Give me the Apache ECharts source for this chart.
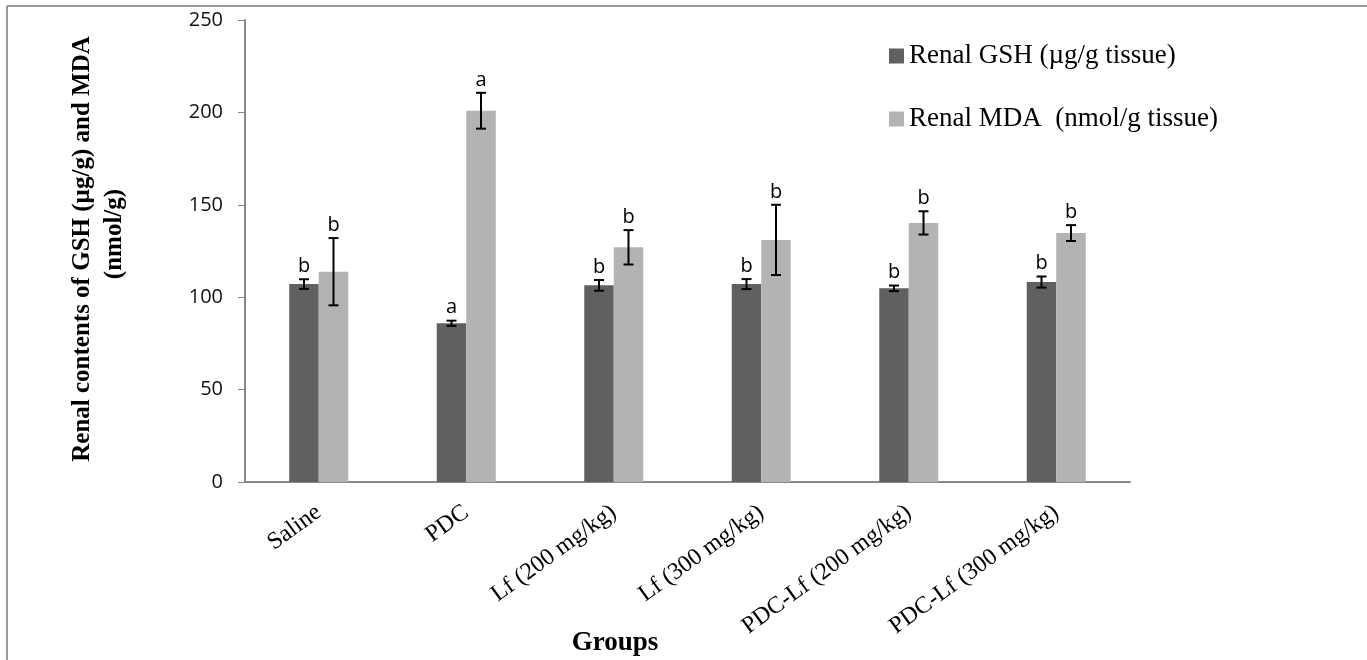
<!DOCTYPE html>
<html>
<head>
    <meta charset="utf-8">
    <title>Renal GSH and MDA</title>
    <script src="https://cdn.jsdelivr.net/npm/echarts@6/dist/echarts.min.js"></script>
    <style>
        html, body { margin: 0; padding: 0; background: #fff; }
        #main { width: 1367px; height: 660px; }
    </style>
</head>
<body>
<div id="main"></div>
<script type="text/javascript">
    // 数据
    var groups = ['Saline', 'PDC', 'Lf (200 mg/kg)', 'Lf (300 mg/kg)', 'PDC-Lf (200 mg/kg)', 'PDC-Lf (300 mg/kg)'];
    var gshValues = [107.1, 85.9, 106.4, 107.1, 104.8, 108.2];
    var gshErrors = [2.6, 1.4, 2.9, 2.7, 1.5, 3.0];
    var gshLetters = ['b', 'a', 'b', 'b', 'b', 'b'];
    var mdaValues = [113.8, 200.9, 127.0, 131.0, 140.2, 134.7];
    var mdaErrors = [18.2, 9.7, 9.3, 19.0, 6.3, 4.3];
    var mdaLetters = ['b', 'a', 'b', 'b', 'b', 'b'];
    var yTicks = [0, 50, 100, 150, 200, 250];

    var gshName = 'Renal GSH (µg/g tissue)';
    var mdaName = 'Renal MDA  (nmol/g tissue)';

    var myChart = echarts.init(document.getElementById('main'));

    // 误差线 + 字母
    function errorSeries(values, errors, letters, side) {
        var data = [];
        for (var i = 0; i < values.length; i++) {
            data.push([i, values[i], errors[i], letters[i]]);
        }
        return {
            type: 'custom',
            silent: true,
            z: 10,
            data: data,
            renderItem: function (params, api) {
                var idx = api.value(0);
                var v = api.value(1);
                var e = api.value(2);
                var band = api.size([1, 0])[0];
                var shift = side * band * 0.1;
                var hi = api.coord([idx, v + e]);
                var lo = api.coord([idx, v - e]);
                var x = hi[0] + shift;
                var cap = 5;
                var st = {stroke: '#000', lineWidth: 2};
                return {
                    type: 'group',
                    children: [
                        {type: 'line', shape: {x1: x, y1: hi[1], x2: x, y2: lo[1]}, style: st},
                        {type: 'line', shape: {x1: x - cap, y1: hi[1], x2: x + cap, y2: hi[1]}, style: st},
                        {type: 'line', shape: {x1: x - cap, y1: lo[1], x2: x + cap, y2: lo[1]}, style: st},
                        {
                            type: 'text',
                            style: {
                                x: x, y: hi[1] - 3,
                                text: data[params.dataIndex][3],
                                fill: '#000',
                                font: '20px "Open Sans", sans-serif',
                                align: 'center', verticalAlign: 'bottom'
                            }
                        }
                    ]
                };
            }
        };
    }

    var option = {
        animation: false,
        backgroundColor: '#fff',
        grid: {left: 245, right: 237, top: 20, bottom: 178},
        legend: {
            data: [gshName, mdaName],
            orient: 'vertical',
            left: 884,
            top: 37,
            itemGap: 35,
            itemWidth: 15,
            itemHeight: 15,
            icon: 'rect',
            textStyle: {fontFamily: 'Liberation Serif', fontSize: 27, lineHeight: 28, color: '#000'}
        },
        xAxis: {
            type: 'category',
            data: groups,
            axisLine: {lineStyle: {color: '#888', width: 2}},
            axisTick: {show: false},
            axisLabel: {
                interval: 0,
                rotate: 36,
                margin: 28,
                fontFamily: 'Liberation Serif',
                fontSize: 24,
                color: '#000'
            }
        },
        yAxis: {
            type: 'value',
            min: 0,
            max: 250,
            interval: 50,
            splitLine: {show: false},
            axisLine: {show: true, lineStyle: {color: '#888', width: 2}},
            axisTick: {show: true, length: 7, lineStyle: {color: '#888'}},
            axisLabel: {
                margin: 22,
                fontFamily: 'Open Sans',
                fontSize: 20,
                color: '#111',
                formatter: function (v) { return yTicks.indexOf(v) >= 0 ? String(v) : ''; }
            }
        },
        graphic: [
            // 外框
            {type: 'line', shape: {x1: 7, y1: 6, x2: 1367, y2: 6}, style: {stroke: '#999', lineWidth: 2}},
            {type: 'line', shape: {x1: 7, y1: 6, x2: 7, y2: 660}, style: {stroke: '#999', lineWidth: 2}},
            {
                type: 'text',
                x: 83, y: 249,
                rotation: Math.PI / 2,
                style: {
                    text: 'Renal contents of GSH (µg/g) and MDA',
                    font: 'bold 25px "Liberation Serif", serif',
                    fill: '#000', align: 'center', verticalAlign: 'middle'
                }
            },
            {
                type: 'text',
                x: 115, y: 234,
                rotation: Math.PI / 2,
                style: {
                    text: '(nmol/g)',
                    font: 'bold 25px "Liberation Serif", serif',
                    fill: '#000', align: 'center', verticalAlign: 'middle'
                }
            },
            {
                type: 'text',
                x: 615, y: 643,
                style: {
                    text: 'Groups',
                    font: 'bold 27px "Liberation Serif", serif',
                    fill: '#000', align: 'center', verticalAlign: 'middle'
                }
            }
        ],
        series: [
            {
                name: gshName,
                type: 'bar',
                data: gshValues,
                barWidth: '20%',
                barGap: '0%',
                itemStyle: {color: '#606060'}
            },
            {
                name: mdaName,
                type: 'bar',
                data: mdaValues,
                barWidth: '20%',
                itemStyle: {color: '#b3b3b3'}
            },
            errorSeries(gshValues, gshErrors, gshLetters, -1),
            errorSeries(mdaValues, mdaErrors, mdaLetters, 1)
        ]
    };
    myChart.setOption(option);
</script>
</body>
</html>
